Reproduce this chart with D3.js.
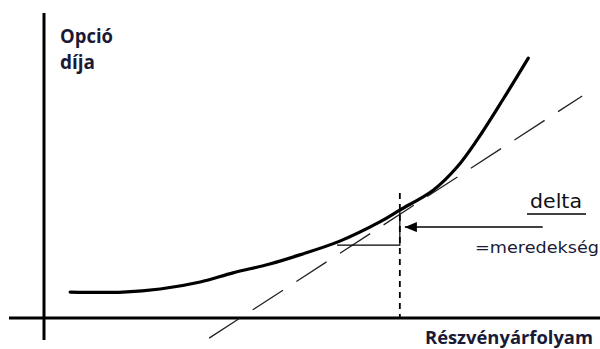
<!DOCTYPE html>
<html>
<head>
<meta charset="utf-8">
<script src="https://cdn.jsdelivr.net/npm/d3@7"></script>
<style>
html,body{margin:0;padding:0;background:#fff;}
svg{display:block;}
</style>
</head>
<body>
<svg id="chart" width="600" height="349"></svg>
<script>
// Data (arbitrary units: stock price on x, option price on y)
const curveX = [4.7, 14.2, 20.9, 28.1, 34.0, 40.6, 46.0, 53.2, 60.4, 64.0, 70.0, 74.3, 77.9, 82.6, 87.1];
const curveY = [8.5, 8.5, 9.5, 11.8, 14.8, 17.7, 20.7, 25.2, 31.5, 35.4, 41.9, 49.5, 58.4, 71.8, 85.2];
const tangentX = [29.7, 96.8];
const tangentY = [-6.6, 72.8];
const tangentPoint = [64.0, 35.4];
const triangleLeftX = 52.7;
const triangleBaseY = 23.9;
const strikeLineTopY = 41;
const arrowFromX = 89.7;
const arrowToX = 64.9;
const arrowY = 29.8;
const yAxisLabel = ["Opció", "díja"];
const xAxisLabel = "Részvényárfolyam";
const deltaLabel = "delta";
const slopeLabel = "=meredekség";

const svg = d3.select("#chart");
const x = d3.scaleLinear().domain([0, 100]).range([44, 600]);
const y = d3.scaleLinear().domain([0, 100]).range([318, 13]);
const textColor = "#1a1a36";

// axes
svg.append("line")
  .attr("x1", x(0)).attr("x2", x(0))
  .attr("y1", y(100)).attr("y2", y(-7.2))
  .attr("stroke", "#000").attr("stroke-width", 3);
svg.append("line")
  .attr("x1", x(-6.3)).attr("x2", x(100))
  .attr("y1", y(0)).attr("y2", y(0))
  .attr("stroke", "#000").attr("stroke-width", 3);

// vertical dashed line at tangent point
svg.append("line")
  .attr("x1", x(tangentPoint[0])).attr("x2", x(tangentPoint[0]))
  .attr("y1", y(strikeLineTopY)).attr("y2", y(0))
  .attr("stroke", "#000").attr("stroke-width", 1.8)
  .attr("stroke-dasharray", "6,5");

// tangent line (dashed)
svg.append("line")
  .attr("x1", x(tangentX[0])).attr("y1", y(tangentY[0]))
  .attr("x2", x(tangentX[1])).attr("y2", y(tangentY[1]))
  .attr("stroke", "#222").attr("stroke-width", 1.3)
  .attr("stroke-dasharray", "36,16");

// slope triangle
svg.append("path")
  .attr("d", `M${x(triangleLeftX)},${y(triangleBaseY)}L${x(tangentPoint[0])},${y(triangleBaseY)}L${x(tangentPoint[0])},${y(tangentPoint[1])}`)
  .attr("fill", "none").attr("stroke", "#000").attr("stroke-width", 1.2);

// option price curve
const pts = curveX.map((d, i) => [d, curveY[i]]);
svg.append("path")
  .datum(pts)
  .attr("d", d3.line().x(d => x(d[0])).y(d => y(d[1])).curve(d3.curveCatmullRom.alpha(0.5)))
  .attr("fill", "none").attr("stroke", "#000").attr("stroke-width", 3.2)
  .attr("stroke-linecap", "round");

// arrow
const defs = svg.append("defs");
defs.append("marker").attr("id", "arrow")
  .attr("viewBox", "0 0 12 10").attr("refX", 12).attr("refY", 5)
  .attr("markerWidth", 12).attr("markerHeight", 10)
  .attr("markerUnits", "userSpaceOnUse").attr("orient", "auto")
  .append("path").attr("d", "M0,0L12,5L0,10Z").attr("fill", "#000");
svg.append("line")
  .attr("x1", x(arrowFromX)).attr("y1", y(arrowY))
  .attr("x2", x(arrowToX)).attr("y2", y(arrowY))
  .attr("stroke", "#000").attr("stroke-width", 1.5)
  .attr("marker-end", "url(#arrow)");

// labels
svg.append("text").attr("x", 60).attr("y", 43)
  .attr("font-family", "Open Sans").attr("font-weight", "bold").attr("font-size", 19)
  .attr("fill", textColor).attr("textLength", 53).attr("lengthAdjust", "spacingAndGlyphs")
  .text(yAxisLabel[0]);
svg.append("text").attr("x", 60).attr("y", 69)
  .attr("font-family", "Open Sans").attr("font-weight", "bold").attr("font-size", 19)
  .attr("fill", textColor).attr("textLength", 35).attr("lengthAdjust", "spacingAndGlyphs")
  .text(yAxisLabel[1]);
svg.append("text").attr("x", 425).attr("y", 344)
  .attr("font-family", "Open Sans").attr("font-weight", "bold").attr("font-size", 18)
  .attr("fill", textColor).attr("textLength", 168).attr("lengthAdjust", "spacingAndGlyphs")
  .text(xAxisLabel);
svg.append("text").attr("x", 530).attr("y", 208)
  .attr("font-family", "DejaVu Sans").attr("font-size", 19)
  .attr("fill", "#111").attr("textLength", 52).attr("lengthAdjust", "spacingAndGlyphs")
  .text(deltaLabel);
svg.append("line").attr("x1", 527).attr("x2", 586).attr("y1", 214).attr("y2", 214)
  .attr("stroke", "#000").attr("stroke-width", 1.5);
svg.append("text").attr("x", 475).attr("y", 253)
  .attr("font-family", "DejaVu Sans").attr("font-size", 16.5)
  .attr("fill", textColor).attr("textLength", 124).attr("lengthAdjust", "spacingAndGlyphs")
  .text(slopeLabel);
</script>
</body>
</html>
